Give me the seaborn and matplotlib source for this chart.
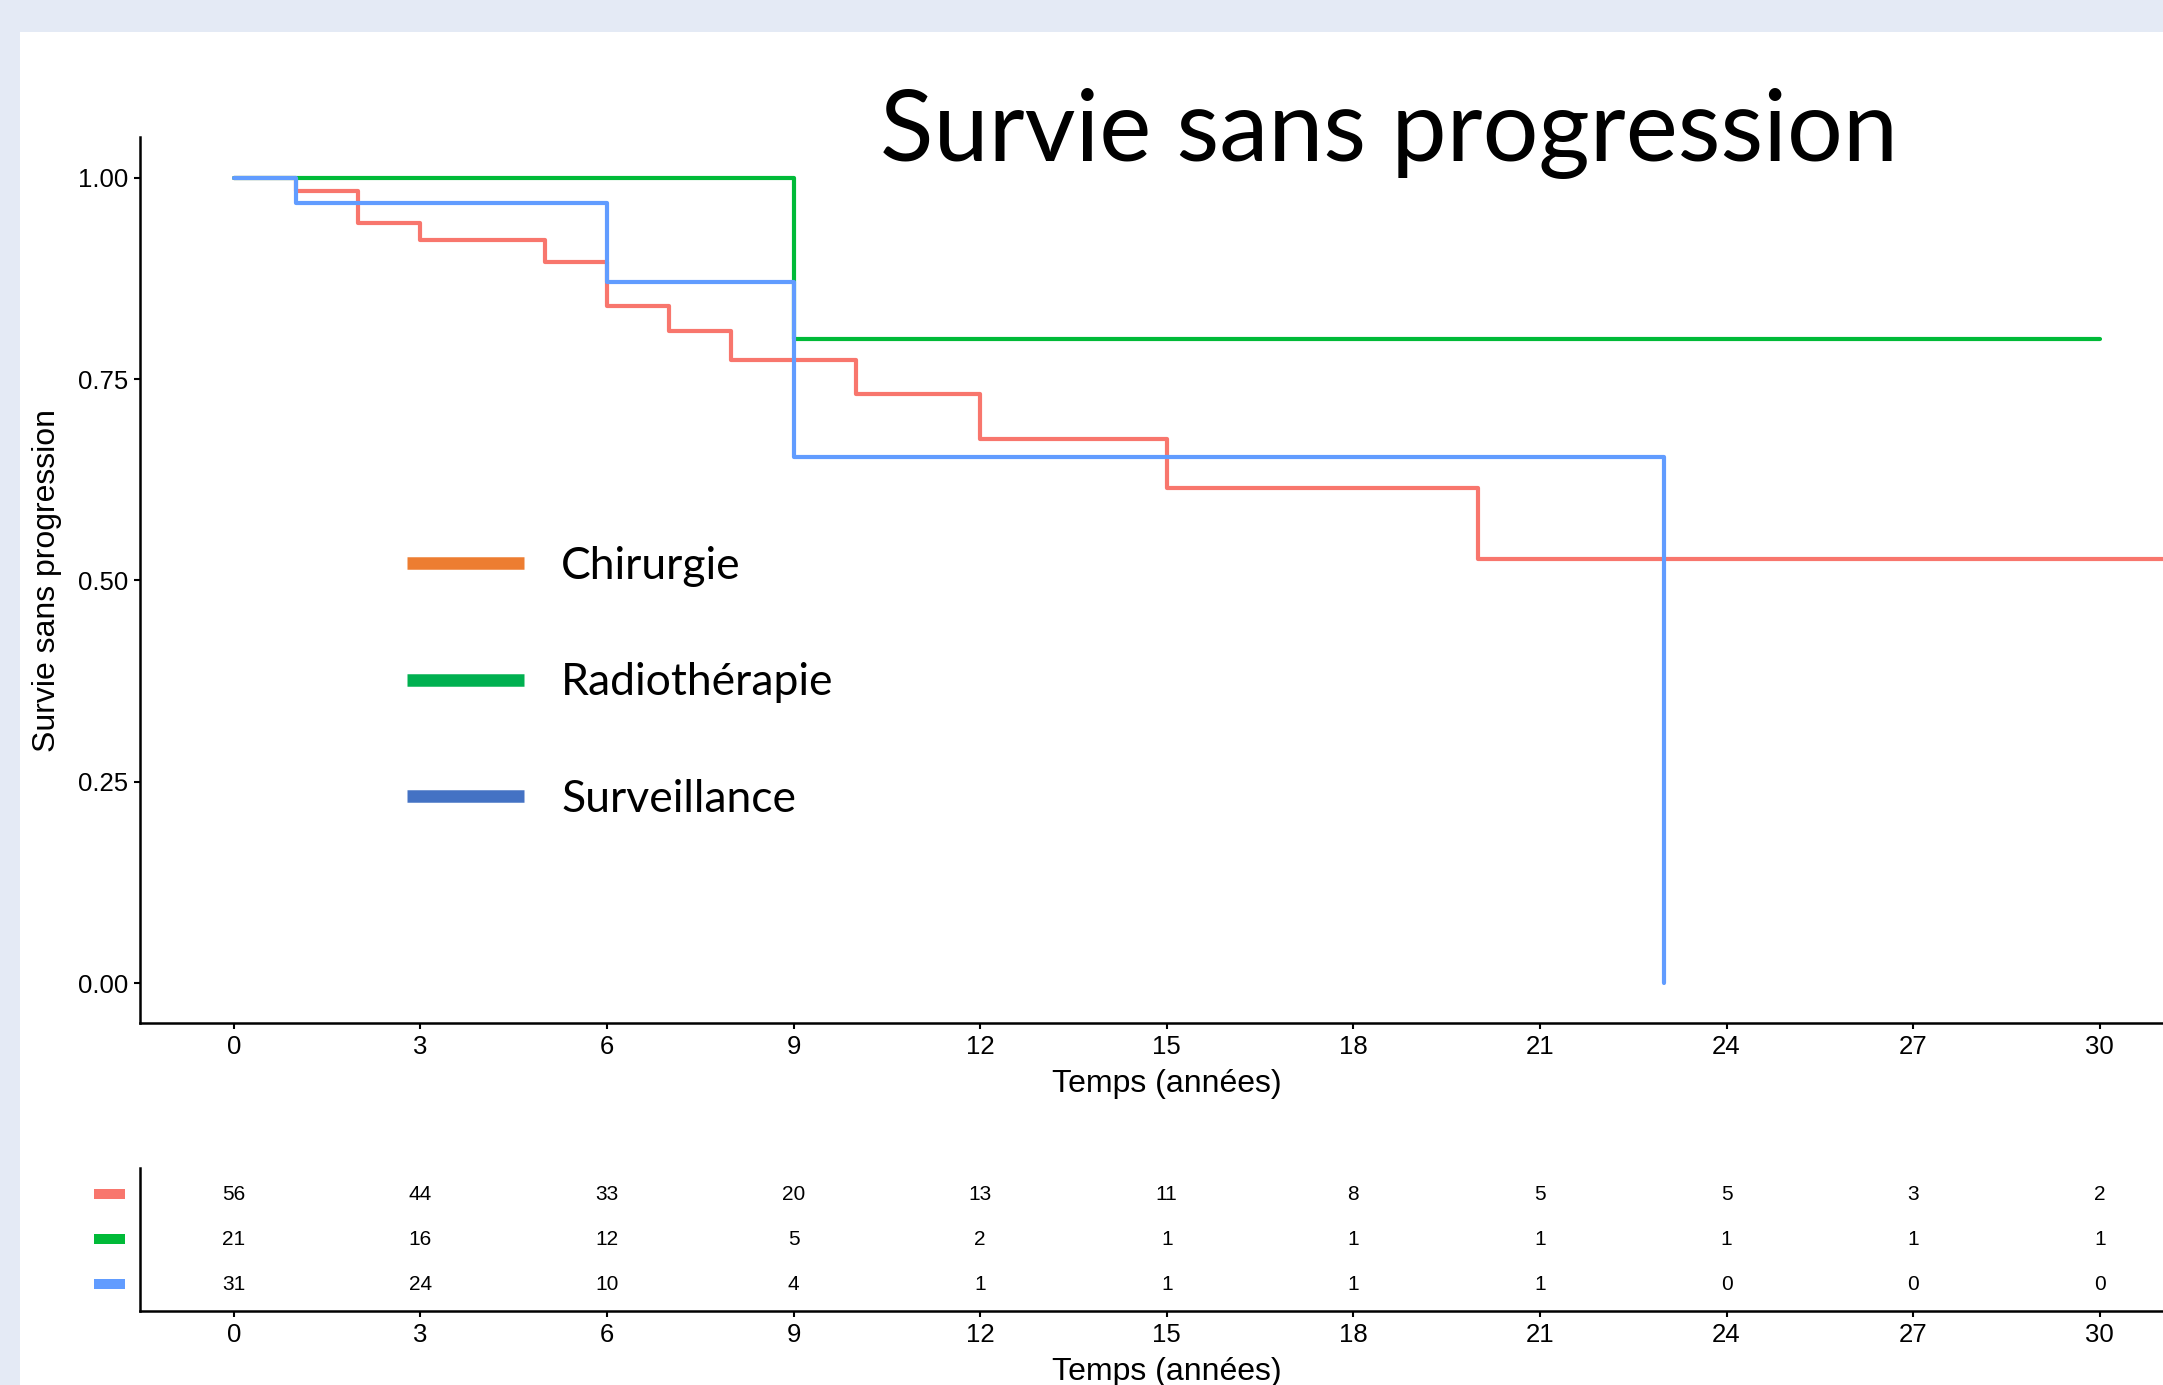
import numpy as np
import pandas as pd
import matplotlib
matplotlib.use("Agg")
import matplotlib.pyplot as plt
from matplotlib.lines import Line2D
from matplotlib.patches import Rectangle
from matplotlib.ticker import FormatStrFormatter
import seaborn as sns

# Kaplan-Meier steps (time in years, survival)
groups = ["Chirurgie", "Radiothérapie", "Surveillance"]
chir_t = [0, 1, 2, 3, 5, 6, 7, 8, 10, 12, 15, 20, 32]
chir_s = [1.00, 0.983, 0.944, 0.922, 0.895, 0.841, 0.809, 0.773, 0.732, 0.676, 0.615, 0.527, 0.527]
radio_t = [0, 9, 30]
radio_s = [1.00, 0.80, 0.80]
surv_t = [0, 1, 6, 9, 23]
surv_s = [1.00, 0.968, 0.871, 0.653, 0.0]

# Numbers at risk
risk_times = [0, 3, 6, 9, 12, 15, 18, 21, 24, 27, 30]
chir_risk = [56, 44, 33, 20, 13, 11, 8, 5, 5, 3, 2]
radio_risk = [21, 16, 12, 5, 2, 1, 1, 1, 1, 1, 1]
surv_risk = [31, 24, 10, 4, 1, 1, 1, 1, 0, 0, 0]

curve_colors = ["#F8766D", "#00BA38", "#619CFF"]
legend_colors = ["#ED7D31", "#00B050", "#4472C4"]

W, H = 2163, 1385


def main():
    sns.set_style("ticks")
    plt.rcParams["font.family"] = ["Liberation Sans", "DejaVu Sans"]
    plt.rcParams["text.color"] = "black"
    plt.rcParams["axes.labelcolor"] = "black"

    df = pd.concat([
        pd.DataFrame({"temps": chir_t, "survie": chir_s, "groupe": groups[0]}),
        pd.DataFrame({"temps": radio_t, "survie": radio_s, "groupe": groups[1]}),
        pd.DataFrame({"temps": surv_t, "survie": surv_s, "groupe": groups[2]}),
    ], ignore_index=True)

    fig = plt.figure(figsize=(W / 100, H / 100), dpi=100)
    fig.patch.set_facecolor("#E4EAF5")
    fig.add_artist(Rectangle((20 / W, 0), 1, 1 - 32 / H, transform=fig.transFigure,
                             facecolor="white", edgecolor="none", zorder=-1))

    left = 140.4 / W
    width = (2193 - 140.4) / W
    ax = fig.add_axes([left, 1 - 1023.3 / H, width, (1023.3 - 137.4) / H])
    ax2 = fig.add_axes([left, 1 - 1311 / H, width, (1311 - 1168) / H])

    # survival curves
    sns.lineplot(data=df, x="temps", y="survie", hue="groupe", hue_order=groups,
                 palette=curve_colors, estimator=None, drawstyle="steps-post",
                 linewidth=3.0, legend=False, ax=ax)

    ax.set_xlim(-1.5, 31.5)
    ax.set_ylim(-0.05, 1.05)
    ax.set_xticks(risk_times)
    ax.set_yticks([0, 0.25, 0.5, 0.75, 1.0])
    ax.yaxis.set_major_formatter(FormatStrFormatter("%.2f"))
    ax.set_xlabel("Temps (années)", fontsize=23, labelpad=7)
    ax.set_ylabel("Survie sans progression", fontsize=23, labelpad=12)

    # legend added on top of the slide
    handles = [Line2D([], [], color=c, lw=9, solid_capstyle="butt") for c in legend_colors]
    ax.legend(handles, groups, loc="upper left", bbox_to_anchor=(0.1297, 0.539),
              frameon=False, prop={"family": "Lato", "size": 32},
              handlelength=2.65, handletextpad=0.83, labelspacing=1.7,
              borderpad=0, borderaxespad=0)

    # title
    fig.text(1389 / W, 1 - 161 / H, "Survie sans progression", ha="center",
             va="baseline", family="Lato", fontsize=71, color="black")

    # risk table
    risk = [chir_risk, radio_risk, surv_risk]
    for row, counts in enumerate(risk, start=1):
        for t, n in zip(risk_times, counts):
            ax2.text(t, row, str(n), ha="center", va="center", fontsize=15)
        ax2.plot([-0.0226, -0.0075], [row, row], color=curve_colors[row - 1], lw=7.2,
                 solid_capstyle="butt", transform=ax2.get_yaxis_transform(), clip_on=False)
    ax2.set_xlim(-1.5, 31.5)
    ax2.set_ylim(3.6, 0.42)
    ax2.set_xticks(risk_times)
    ax2.set_yticks([])
    ax2.set_xlabel("Temps (années)", fontsize=23, labelpad=7)

    for a in (ax, ax2):
        a.set_facecolor("none")
        sns.despine(ax=a)
        for s in ("left", "bottom"):
            a.spines[s].set_linewidth(1.8)
            a.spines[s].set_color("black")
        a.tick_params(length=4.5, width=1.5, labelsize=18.5, pad=4, colors="black")

    fig.savefig("out.png", dpi=100, facecolor=fig.get_facecolor())
    plt.close(fig)


if __name__ == "__main__":
    main()
